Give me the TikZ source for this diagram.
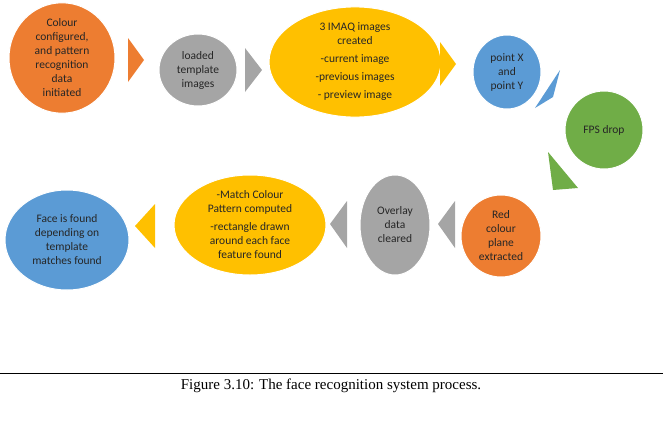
\documentclass[tikz,border=0pt]{standalone}
\usepackage{fontspec}
\setmainfont{Carlito}
\newfontfamily\capfont{Liberation Serif}
\usetikzlibrary{shapes.geometric}
\definecolor{corange}{RGB}{237,125,49}
\definecolor{cgray}{RGB}{165,165,165}
\definecolor{cyellow}{RGB}{255,192,0}
\definecolor{cblue}{RGB}{91,155,213}
\definecolor{cgreen}{RGB}{112,173,71}
\begin{document}
\begin{tikzpicture}[x=1pt,y=-1pt,
  stage/.style={ellipse,draw=white,line width=1pt,inner sep=0pt,align=center,
    font=\fontsize{11.5}{14}\selectfont,text=black!85}]
\useasboundingbox (0,0) rectangle (663,423);
\node[stage,fill=corange,minimum width=106,minimum height=96] (a) at (62,58)
  {Colour\\configured,\\and pattern\\recognition\\data\\initiated};
\node[stage,fill=cgray,minimum width=78,minimum height=72] (b) at (198,70)
  {loaded\\template\\images};
\node[stage,fill=cyellow,minimum width=172,minimum height=110] (c) at (355,62)
  {3 IMAQ images\\created\\[4pt]-current image\\[4pt]-previous images\\[4pt]- preview image};
\node[stage,fill=cblue,minimum width=68,minimum height=74] (d) at (507,72)
  {point X\\and\\point Y};
\node[stage,fill=cgreen,minimum width=78,minimum height=78] (e) at (604,130)
  {FPS drop};
\node[stage,fill=corange,minimum width=80,minimum height=82] (f) at (501,236)
  {Red\\colour\\plane\\extracted};
\node[stage,fill=cgray,minimum width=70,minimum height=100] (g) at (395,225)
  {Overlay\\data\\cleared};
\node[stage,fill=cyellow,minimum width=152,minimum height=100] (h) at (250,225)
  {-Match Colour\\Pattern computed\\[4pt]-rectangle drawn\\around each face\\feature found};
\node[stage,fill=cblue,minimum width=124,minimum height=100] (i) at (67,240)
  {Face is found\\depending on\\template\\matches found};
% chevron arrows
\fill[corange] (128,38) -- (144,60) -- (128,82) -- cycle;
\fill[cgray] (245,48) -- (262,70) -- (245,92) -- cycle;
\fill[cyellow] (440,42) -- (456,64) -- (440,86) -- cycle;
\fill[cblue] (560,70) -- (553,97) -- (535,108) -- cycle;
\fill[cgreen] (548,152) -- (578,188) -- (553,190) -- cycle;
\fill[cgray] (455,201) -- (438,224) -- (455,248) -- cycle;
\fill[cgray] (347,201) -- (330,224) -- (347,248) -- cycle;
\fill[cyellow] (155,204) -- (135,226) -- (155,248) -- cycle;
\draw[black,line width=0.5pt] (0,373) -- (663,373);
\node[font=\capfont\fontsize{15}{17}\selectfont] (cap) at (331,386)
  {Figure 3.10: The face recognition system process.};
\end{tikzpicture}
\end{document}
